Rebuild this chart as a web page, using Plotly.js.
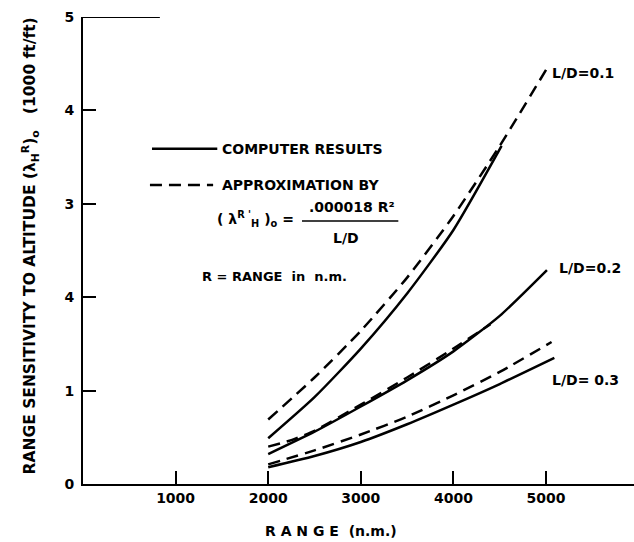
<!DOCTYPE html>
<html>
<head>
<meta charset="utf-8">
<script src="https://cdn.plot.ly/plotly-3.0.1.min.js"></script>
<style>html,body{margin:0;padding:0;background:#fff;}#chart{width:634px;height:542px;}</style>
</head>
<body>
<div id="chart"></div>
<script>
// ---- data ----
var solid01X = [2000, 2500, 3000, 3500, 4000, 4520];
var solid01Y = [0.49, 0.93, 1.45, 2.04, 2.72, 3.62];
var dash01X  = [2000, 2500, 3000, 3500, 4000, 4500, 5010];
var dash01Y  = [0.69, 1.14, 1.64, 2.21, 2.87, 3.62, 4.45];

var solid02X = [2000, 2500, 3000, 3500, 4000, 4500, 5010];
var solid02Y = [0.32, 0.56, 0.83, 1.11, 1.42, 1.80, 2.29];
var dash02X  = [2000, 2250, 2500, 3000, 3500, 4000, 4400];
var dash02Y  = [0.40, 0.47, 0.57, 0.85, 1.14, 1.45, 1.71];

var solid03X = [2000, 2500, 3000, 3500, 4000, 4500, 5090];
var solid03Y = [0.18, 0.30, 0.45, 0.64, 0.85, 1.07, 1.35];
var dash03X  = [2000, 2500, 3000, 3500, 4000, 4500, 5060];
var dash03Y  = [0.21, 0.36, 0.53, 0.72, 0.95, 1.20, 1.52];

var xTickVals = [1000, 2000, 3000, 4000, 5000];
var xTickText = ["1000", "2000", "3000", "4000", "5000"];
var yTickVals = [0, 1, 2, 3, 4, 5];
var yTickText = ["0", "1", "4", "3", "4", "5"];

var curveLabels = ["L/D=0.1", "L/D=0.2", "L/D= 0.3"];

var FONT = "DejaVu Sans";
var solidLine = {color: "#000", width: 2.5, shape: "spline", smoothing: 0.6};
var dashLine = {color: "#000", width: 2.5, dash: "12px,7px", shape: "spline", smoothing: 0.6};

function tr(x, y, line) {
  return {x: x, y: y, type: "scatter", mode: "lines", line: line, showlegend: false, hoverinfo: "skip"};
}

var data = [
  tr(solid01X, solid01Y, solidLine),
  tr(dash01X, dash01Y, dashLine),
  tr(solid02X, solid02Y, solidLine),
  tr(dash02X, dash02Y, dashLine),
  tr(solid03X, solid03Y, solidLine),
  tr(dash03X, dash03Y, dashLine)
];

var tf = {family: FONT, size: 14, color: "#000", weight: "bold"};
var sf = {family: FONT, size: 13, color: "#000", weight: "bold"};
var yf = {family: FONT, size: 15.5, color: "#000", weight: "bold"};

var annotations = [
  {x: 1480, y: 3.59, xanchor: "left", yanchor: "middle", text: "COMPUTER RESULTS", showarrow: false, font: tf},
  {x: 1480, y: 3.20, xanchor: "left", yanchor: "middle", text: "APPROXIMATION BY", showarrow: false, font: tf},
  {x: 1425, y: 2.84, xanchor: "left", yanchor: "middle", text: "( λ<sup>R '</sup><sub>H</sub> )<sub>o</sub> =", showarrow: false, font: tf},
  {x: 2900, y: 2.97, xanchor: "center", yanchor: "middle", text: ".000018 R²", showarrow: false, font: tf},
  {x: 2845, y: 2.63, xanchor: "center", yanchor: "middle", text: "L/D", showarrow: false, font: tf},
  {x: 1265, y: 2.22, xanchor: "left", yanchor: "middle", text: "R = RANGE  in  n.m.", showarrow: false, font: sf},
  {x: 5045, y: 4.40, xanchor: "left", yanchor: "middle", text: curveLabels[0], showarrow: false, font: tf},
  {x: 5120, y: 2.31, xanchor: "left", yanchor: "middle", text: curveLabels[1], showarrow: false, font: tf},
  {x: 5045, y: 1.11, xanchor: "left", yanchor: "middle", text: curveLabels[2], showarrow: false, font: tf},
  {xref: "paper", yref: "paper", x: 0.45, y: -0.1, xanchor: "center", yanchor: "middle", text: "R A N G E  (n.m.)", showarrow: false, font: tf},
  {xref: "paper", yref: "paper", x: -0.095, y: 0.51, xanchor: "center", yanchor: "middle", textangle: -90,
   text: "RANGE SENSITIVITY TO ALTITUDE (λ<sub>H</sub><sup>R</sup>)<sub>o</sub>   (1000 ft/ft)", showarrow: false, font: yf}
];

var shapes = [
  {type: "line", x0: 745, x1: 1450, y0: 3.59, y1: 3.59, line: {color: "#000", width: 2.5}},
  {type: "line", x0: 723, x1: 1405, y0: 3.20, y1: 3.20, line: {color: "#000", width: 2.5, dash: "12px,7px"}},
  {type: "line", x0: 2365, x1: 3405, y0: 2.815, y1: 2.815, line: {color: "#000", width: 1.5}},
  {type: "line", x0: 0, x1: 830, y0: 5, y1: 5, line: {color: "#000", width: 2}}
];

var layout = {
  width: 634, height: 542,
  margin: {l: 83, r: 0, t: 17, b: 58},
  paper_bgcolor: "#fff", plot_bgcolor: "#fff",
  showlegend: false,
  xaxis: {range: [0, 5950], tickvals: xTickVals, ticktext: xTickText, ticks: "inside", ticklen: 13, tickwidth: 1.5,
          tickcolor: "#000", showline: true, linecolor: "#000", linewidth: 2, showgrid: false, zeroline: false,
          tickfont: tf, fixedrange: true},
  yaxis: {range: [0, 5], tickvals: yTickVals, ticktext: yTickText, ticks: "inside", ticklen: 13, tickwidth: 1.5,
          tickcolor: "#000", showline: true, linecolor: "#000", linewidth: 2, showgrid: false, zeroline: false,
          tickfont: tf, fixedrange: true, ticklabelstandoff: 4},
  annotations: annotations,
  shapes: shapes
};

Plotly.newPlot("chart", data, layout, {displayModeBar: false});
</script>
</body>
</html>
